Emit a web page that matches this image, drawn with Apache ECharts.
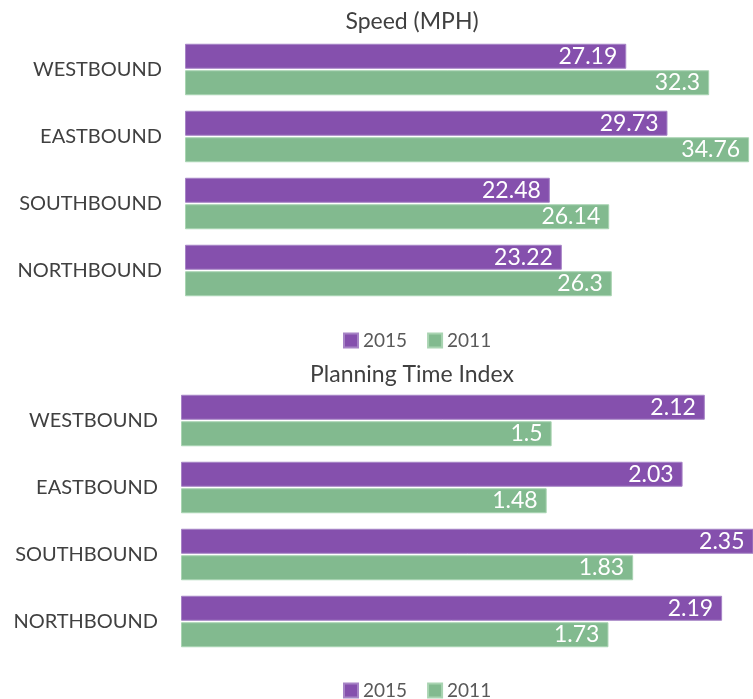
<!DOCTYPE html>
<html>
<head>
<meta charset="utf-8">
<script src="https://cdn.jsdelivr.net/npm/echarts@6/dist/echarts.min.js"></script>
<style>
  html, body { margin: 0; padding: 0; background: #fff; }
  #chart { width: 753px; height: 699px; }
</style>
</head>
<body>
<div id="chart"></div>
<script>
// 方向（类目）
const directions = ['WESTBOUND', 'EASTBOUND', 'SOUTHBOUND', 'NORTHBOUND'];
// 速度 (MPH)
const speed2015 = [27.19, 29.73, 22.48, 23.22];
const speed2011 = [32.3, 34.76, 26.14, 26.3];
// 计划时间指数
const pti2015 = [2.12, 2.03, 2.35, 2.19];
const pti2011 = [1.5, 1.48, 1.83, 1.73];

const purple = '#8550ad';
const green = '#82ba8f';
const font = 'Lato, "Open Sans", sans-serif';

const chart = echarts.init(document.getElementById('chart'));

// 生成一组柱子
function makeBar(name, data, color, border, idx) {
  return {
    name: name,
    type: 'bar',
    xAxisIndex: idx,
    yAxisIndex: idx,
    data: data,
    barWidth: 25,
    barGap: '6%',
    itemStyle: { color: color, borderColor: border, borderWidth: 1 },
    label: {
      show: true,
      position: 'insideRight',
      distance: 9,
      color: '#fff',
      fontSize: 23,
      fontFamily: font
    }
  };
}

const legendCommon = {
  data: ['2015', '2011'],
  left: 338,
  icon: 'rect',
  itemWidth: 14,
  itemHeight: 14,
  itemGap: 20,
  textStyle: { color: '#595959', fontSize: 19, fontFamily: font }
};

const titleStyle = { color: '#404040', fontSize: 23, fontWeight: 'normal', fontFamily: font };

const option = {
  animation: false,
  title: [
    { text: 'Speed (MPH)', left: 407, textAlign: 'center', top: 5, textStyle: titleStyle },
    { text: 'Planning Time Index', left: 407, textAlign: 'center', top: 358, textStyle: titleStyle }
  ],
  legend: [
    Object.assign({ top: 326 }, legendCommon),
    Object.assign({ top: 676 }, legendCommon)
  ],
  grid: [
    { left: 185, top: 36, right: 0, height: 268 },
    { left: 181, top: 387, right: 0, height: 268 }
  ],
  xAxis: [
    { gridIndex: 0, type: 'value', min: 0, max: 35, show: false },
    // 原图右侧被裁掉，2.35 超出画面
    { gridIndex: 1, type: 'value', min: 0, max: 2.315, show: false }
  ],
  yAxis: [0, 1].map(i => ({
    gridIndex: i,
    type: 'category',
    inverse: true,
    data: directions,
    axisLine: { show: false },
    axisTick: { show: false },
    axisLabel: {
      color: '#404040',
      fontSize: 20,
      fontFamily: font,
      margin: 23
    }
  })),
  series: [
    makeBar('2015', speed2015, purple, '#a784c6', 0),
    makeBar('2011', speed2011, green, '#a9d4b2', 0),
    makeBar('2015', pti2015, purple, '#a784c6', 1),
    makeBar('2011', pti2011, green, '#a9d4b2', 1)
  ]
};

chart.setOption(option);
</script>
</body>
</html>
